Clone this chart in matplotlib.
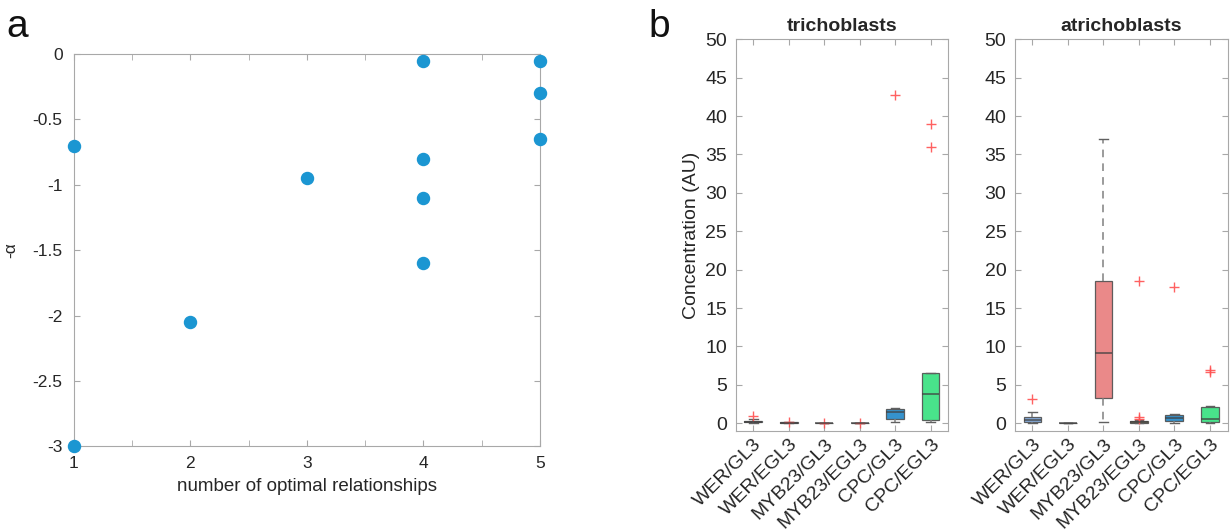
import matplotlib
matplotlib.use("Agg")
import matplotlib.pyplot as plt
import matplotlib.transforms as mtransforms
import numpy as np

plt.rcParams["font.family"] = ["Liberation Sans", "DejaVu Sans"]
plt.rcParams["axes.unicode_minus"] = False

# panel a: -alpha vs number of optimal relationships
n_opt = [1, 1, 2, 3, 4, 4, 4, 4, 5, 5, 5]
neg_alpha = [-0.7, -3.0, -2.05, -0.95, -0.05, -0.8, -1.1, -1.6, -0.05, -0.3, -0.65]

# panel b: box statistics per dimer
dimers = ["WER/GL3", "WER/EGL3", "MYB23/GL3", "MYB23/EGL3", "CPC/GL3", "CPC/EGL3"]
box_colors = ["#7aa3d8", "#9aa6bb", "#e87c7c", "#7d7b52", "#1f86c8", "#35e07f"]

tri_lo = [0.0, 0.0, 0.0, 0.0, 0.1, 0.1]
tri_q1 = [0.1, 0.0, 0.0, 0.0, 0.6, 0.4]
tri_med = [0.2, 0.05, 0.0, 0.0, 1.4, 3.8]
tri_q3 = [0.35, 0.1, 0.0, 0.0, 1.8, 6.6]
tri_hi = [0.5, 0.1, 0.0, 0.0, 2.0, 6.6]
tri_fliers = [[1.0], [0.1], [0.0], [0.0], [42.7], [39.0, 36.0]]

atr_lo = [0.0, 0.0, 0.1, 0.0, 0.0, 0.0]
atr_q1 = [0.1, 0.0, 3.3, 0.05, 0.3, 0.1]
atr_med = [0.4, 0.0, 9.2, 0.15, 0.7, 0.6]
atr_q3 = [0.8, 0.0, 18.5, 0.3, 1.1, 2.1]
atr_hi = [1.5, 0.0, 37.0, 0.4, 1.2, 2.3]
atr_fliers = [[3.1], [], [], [18.5, 0.8, 0.6], [17.7], [6.9, 6.7]]

GREY = "#a8a8a8"
TXT = "#262626"

fig = plt.figure(figsize=(12.3, 5.3), dpi=100)

# ---- panel a
ax = fig.add_axes([0.060, 0.158, 0.379, 0.740])
ax.scatter(n_opt, neg_alpha, s=75, color="#1b96d2", zorder=3, clip_on=False)
ax.set_xlim(1, 5)
ax.set_ylim(-3, 0)
ax.set_xticks([1, 2, 3, 4, 5])
ax.set_xticks([1.5, 2.5, 3.5, 4.5], minor=True)
ax.set_yticks(np.arange(-3, 0.01, 0.5))
ax.set_yticklabels(["-3", "-2.5", "-2", "-1.5", "-1", "-0.5", "0"])
ax.tick_params(which="both", direction="in", length=4, color=GREY,
               labelsize=12.5, labelcolor=TXT, top=True, right=True)
ax.tick_params(axis="x", pad=7)
ax.tick_params(axis="y", pad=8)
for s in ax.spines.values():
    s.set_color(GREY)
ax.set_xlabel("number of optimal relationships", fontsize=13.5, color=TXT, labelpad=5)
ax.set_ylabel("-\u03b1", fontsize=12.5, color=TXT, labelpad=10)
fig.text(0.005, 0.93, "a", fontsize=28, color="#111111")


def make_stats(lo, q1, med, q3, hi, fl):
    return [dict(whislo=lo[i], q1=q1[i], med=med[i], q3=q3[i], whishi=hi[i],
                 fliers=fl[i], label=dimers[i]) for i in range(len(dimers))]


def box_panel(rect, stats, title, ylabel):
    ax = fig.add_axes(rect)
    bp = ax.bxp(stats, widths=0.5, patch_artist=True, showfliers=True,
                whiskerprops=dict(color="#808080", linestyle=(0, (5, 4)), lw=1.1),
                capprops=dict(color="#606060", lw=1.0),
                medianprops=dict(color="#404040", lw=1.2, alpha=0.8),
                boxprops=dict(edgecolor="#505050", lw=0.9),
                flierprops=dict(marker="+", markeredgecolor="#ff5050", markersize=7,
                                markeredgewidth=1.0, alpha=0.9))
    for patch, c in zip(bp["boxes"], box_colors):
        patch.set_facecolor(c)
        patch.set_alpha(0.9)
    for cap in bp["caps"]:
        x0, x1 = cap.get_xdata()
        xm = (x0 + x1) / 2
        cap.set_xdata([xm - 0.12, xm + 0.12])
    ax.set_xlim(0.5, 6.5)
    ax.set_ylim(-1, 50)
    ax.set_yticks(np.arange(0, 51, 5))
    ax.set_xticklabels(dimers, rotation=45, ha="right", va="top",
                       rotation_mode="anchor", fontsize=14, color=TXT)
    shift = mtransforms.ScaledTranslation(4 / 72, 0, fig.dpi_scale_trans)
    for lab in ax.get_xticklabels():
        lab.set_transform(lab.get_transform() + shift)
    ax.tick_params(which="both", direction="in", length=4, color=GREY,
                   labelsize=14, labelcolor=TXT, top=True, right=True)
    ax.tick_params(axis="y", pad=6)
    for s in ax.spines.values():
        s.set_color(GREY)
    ax.set_title(title, fontsize=14, fontweight="bold", color=TXT, pad=6)
    if ylabel:
        ax.set_ylabel(ylabel, fontsize=14, color=TXT, labelpad=4)
    return ax


box_panel([0.598, 0.187, 0.173, 0.739],
          make_stats(tri_lo, tri_q1, tri_med, tri_q3, tri_hi, tri_fliers),
          "trichoblasts", "Concentration (AU)")
box_panel([0.825, 0.187, 0.173, 0.739],
          make_stats(atr_lo, atr_q1, atr_med, atr_q3, atr_hi, atr_fliers),
          "atrichoblasts", None)
fig.text(0.527, 0.93, "b", fontsize=28, color="#111111")

fig.savefig("out.png", dpi=100)
